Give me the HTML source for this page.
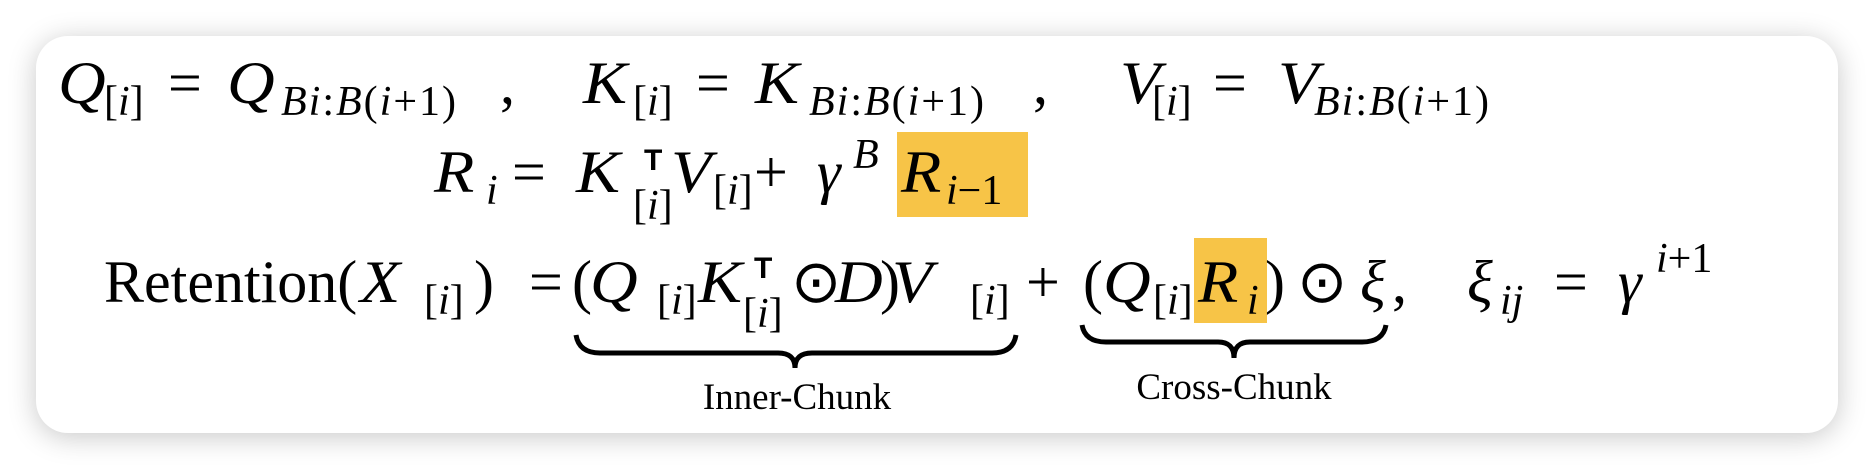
<!DOCTYPE html>
<html><head><meta charset="utf-8"><style>
html,body{margin:0;padding:0;background:#fff;}
body{width:1874px;height:470px;position:relative;overflow:hidden;}
.card{position:absolute;left:36px;top:36px;width:1802px;height:397px;background:#fff;border-radius:32px;box-shadow:0 4px 28px rgba(0,0,0,0.22);}
.t,.s{position:absolute;font-family:"Liberation Serif",serif;line-height:1;white-space:nowrap;color:#000;}
.t{font-size:60px;}
.s{font-size:42px;}
.i{font-style:italic;}
.w{transform:scaleX(1.1);transform-origin:0 0;}
.T{position:absolute;font-family:"Liberation Sans",sans-serif;font-weight:bold;font-size:30px;line-height:1;}
.hl{position:absolute;background:#f7c447;}
.lab{position:absolute;font-family:"Liberation Serif",serif;font-size:37px;line-height:1;white-space:nowrap;}
</style></head><body>
<div class="card"></div>
<div class="hl" style="left:897px;top:132px;width:131px;height:85px"></div>
<div class="hl" style="left:1194px;top:238px;width:73px;height:85px"></div>

<div class="t i w" style="left:58px;top:53px">Q</div>
<div class="s" style="left:104px;top:81px">[<i>i</i>]</div>
<div class="t" style="left:168px;top:53px">=</div>
<div class="t i w" style="left:227px;top:53px">Q</div>
<div class="s" style="left:281px;top:81px;letter-spacing:2px"><i>Bi</i>:<i>B</i>(<i>i</i>+1)</div>
<div class="t" style="left:500px;top:53px">,</div>

<div class="t i w" style="left:583px;top:53px">K</div>
<div class="s" style="left:633px;top:81px">[<i>i</i>]</div>
<div class="t" style="left:696px;top:53px">=</div>
<div class="t i w" style="left:755px;top:53px">K</div>
<div class="s" style="left:809px;top:81px;letter-spacing:2px"><i>Bi</i>:<i>B</i>(<i>i</i>+1)</div>
<div class="t" style="left:1033px;top:53px">,</div>

<div class="t i w" style="left:1120px;top:53px">V</div>
<div class="s" style="left:1152px;top:81px">[<i>i</i>]</div>
<div class="t" style="left:1213px;top:53px">=</div>
<div class="t i w" style="left:1278px;top:53px">V</div>
<div class="s" style="left:1314px;top:81px;letter-spacing:2px"><i>Bi</i>:<i>B</i>(<i>i</i>+1)</div>

<div class="t i w" style="left:434px;top:142px">R</div>
<div class="s i" style="left:486px;top:170px">i</div>
<div class="t" style="left:512px;top:142px">=</div>
<div class="t i w" style="left:576px;top:142px">K</div>
<div class="T" style="left:644px;top:146px">T</div>
<div class="s" style="left:633px;top:185px">[<i>i</i>]</div>
<div class="t i w" style="left:671px;top:142px">V</div>
<div class="s" style="left:713px;top:170px">[<i>i</i>]</div>
<div class="t" style="left:754px;top:142px">+</div>
<div class="t i" style="left:817px;top:142px">γ</div>
<div class="s i" style="left:853px;top:134px">B</div>
<div class="t i w" style="left:901px;top:142px">R</div>
<div class="s" style="left:946px;top:170px"><i>i</i>−1</div>

<div class="t" style="left:104px;top:252px">Retention(</div>
<div class="t i w" style="left:360px;top:252px">X</div>
<div class="s" style="left:424px;top:280px">[<i>i</i>]</div>
<div class="t" style="left:474px;top:252px">)</div>
<div class="t" style="left:529px;top:252px">=</div>
<div class="t" style="left:572px;top:252px">(</div>
<div class="t i w" style="left:590px;top:252px">Q</div>
<div class="s" style="left:657px;top:280px">[<i>i</i>]</div>
<div class="t i w" style="left:698px;top:252px">K</div>
<div class="T" style="left:754px;top:254px">T</div>
<div class="s" style="left:743px;top:293px">[<i>i</i>]</div>
<div class="t" style="left:791px;top:252px">⊙</div>
<div class="t i w" style="left:835px;top:252px">D</div>
<div class="t" style="left:880px;top:252px">)</div>
<div class="t i w" style="left:892px;top:252px">V</div>
<div class="s" style="left:970px;top:280px">[<i>i</i>]</div>
<div class="t" style="left:1026px;top:252px">+</div>
<div class="t" style="left:1083px;top:252px">(</div>
<div class="t i w" style="left:1103px;top:252px">Q</div>
<div class="s" style="left:1153px;top:280px">[<i>i</i>]</div>
<div class="t i w" style="left:1198px;top:252px">R</div>
<div class="s i" style="left:1247px;top:280px">i</div>
<div class="t" style="left:1265px;top:252px">)</div>
<div class="t" style="left:1297px;top:252px">⊙</div>
<div class="t i" style="left:1360px;top:252px">ξ</div>
<div class="t" style="left:1392px;top:252px">,</div>
<div class="t i" style="left:1467px;top:252px">ξ</div>
<div class="s i" style="left:1500px;top:280px">ij</div>
<div class="t" style="left:1554px;top:252px">=</div>
<div class="t i" style="left:1618px;top:252px">γ</div>
<div class="s" style="left:1656px;top:238px"><i>i</i>+1</div>

<svg style="position:absolute;left:0;top:0" width="1874" height="470">
<path d="M576,335 Q579,353 600,353 L778,353 Q795,353 795,368 Q795,353 812,353 L992,353 Q1013,353 1016,335" fill="none" stroke="#000" stroke-width="5"/>
<path d="M1082,325 Q1085,342 1106,342 L1218,342 Q1234,342 1234,358 Q1234,342 1250,342 L1362,342 Q1383,342 1386,325" fill="none" stroke="#000" stroke-width="5"/>
</svg>
<div class="lab" style="left:797px;top:379px;transform:translateX(-50%)">Inner-Chunk</div>
<div class="lab" style="left:1234px;top:369px;transform:translateX(-50%)">Cross-Chunk</div>
</body></html>
